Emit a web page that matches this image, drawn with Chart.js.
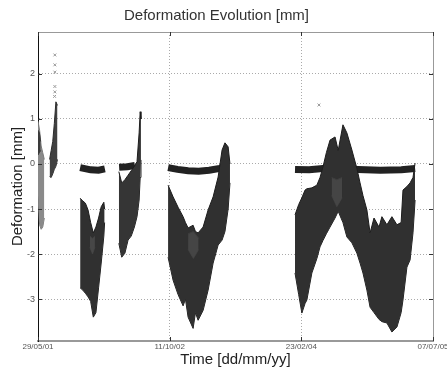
<!DOCTYPE html>
<html>
<head>
<meta charset="utf-8">
<script src="https://cdn.jsdelivr.net/npm/chart.js@4.4.0/dist/chart.umd.min.js"></script>
<style>
  html, body { margin: 0; padding: 0; background: #fff; }
</style>
</head>
<body>
<canvas id="chart" width="447" height="375"></canvas>
<script>
// time is counted in days from 29/05/01
var tickDays = [0, 500, 1000, 1500];
var tickDates = ['29/05/01', '11/10/02', '23/02/04', '07/07/05'];
var yTicks = [-3, -2, -1, 0, 1, 2];

// reference point that stays near zero (null = no campaign)
var refDays = [160, 200, 230, 254, 255, 308, 340, 368, 369, 494, 530, 570, 610, 650, 690, 703, 704, 976, 1030, 1082, 1150, 1215, 1300, 1380, 1432];
var refVals = [-0.08, -0.13, -0.14, -0.11, null, -0.07, -0.06, -0.03, null, -0.08, -0.12, -0.15, -0.16, -0.14, -0.1, -0.06, null, -0.12, -0.13, -0.1, -0.1, -0.12, -0.14, -0.13, -0.1];

// each campaign: upper and lower edge of the point cloud
var aDays = [0, 6, 12, 18, 24];
var aHigh = [0.95, 0.75, 0.4, 0.25, 0.1];
var aLow = [-0.7, -1.35, -1.45, -1.4, -1.2];

var aDarkDays = [0, 5, 10];
var aDarkHigh = [0.75, 0.7, 0.5];
var aDarkLow = [0.2, 0.25, 0.3];

var bDays = [44, 50, 56, 62, 68, 74];
var bHigh = [0.1, 0.3, 0.5, 0.9, 1.38, 1.3];
var bLow = [-0.28, -0.3, -0.22, -0.12, -0.05, 0.1];

var dDays = [160, 170, 180, 190, 200, 210, 220, 230, 240, 250, 253];
var dHigh = [-0.76, -0.82, -0.87, -1.02, -1.3, -1.53, -1.4, -1.2, -0.95, -0.85, -1.0];
var dLow = [-2.75, -2.8, -2.87, -2.95, -3.05, -3.4, -3.3, -2.75, -2.2, -1.6, -1.3];

var eDays = [307, 318, 330, 342, 354, 366, 376, 384, 388, 391];
var eHigh = [-0.17, -0.42, -0.35, -0.25, -0.15, -0.05, 0.05, 0.69, 1.16, 1.0];
var eLow = [-1.76, -2.07, -1.98, -1.69, -1.6, -1.4, -1.17, -0.8, -0.3, 0.09];

var fDays = [494, 513, 532, 551, 560, 570, 589, 598, 608, 627, 646, 665, 684, 699, 710, 722, 729];
var fHigh = [-0.47, -0.73, -0.96, -1.17, -1.3, -1.42, -1.36, -1.5, -1.53, -1.4, -1.02, -0.73, -0.29, 0.31, 0.47, 0.38, 0.0];
var fLow = [-2.07, -2.58, -2.9, -3.15, -3.0, -3.4, -3.65, -3.3, -3.47, -3.25, -2.8, -2.2, -1.8, -1.69, -1.5, -1.0, -0.42];

var gDays = [976, 990, 1002, 1014, 1021, 1040, 1059, 1071, 1082, 1095, 1109, 1128, 1140, 1158, 1173, 1192, 1211, 1223, 1234, 1249, 1261, 1276, 1295, 1306, 1325, 1344, 1363, 1379, 1386, 1401, 1413, 1424, 1432];
var gHigh = [-1.13, -0.9, -0.75, -0.58, -0.55, -0.53, -0.47, -0.3, -0.07, 0.25, 0.53, 0.6, 0.3, 0.87, 0.69, 0.31, -0.1, -0.42, -0.7, -1.02, -1.53, -1.2, -1.4, -1.17, -1.35, -1.17, -1.35, -1.3, -0.58, -0.5, -0.42, -0.3, 0.02];
var gLow = [-2.42, -2.9, -3.31, -3.1, -3.02, -2.42, -2.1, -1.84, -1.7, -1.55, -1.4, -1.2, -1.05, -1.3, -1.62, -1.75, -1.98, -2.2, -2.42, -2.8, -3.18, -3.3, -3.45, -3.5, -3.53, -3.73, -3.62, -3.3, -3.02, -2.29, -2.13, -1.53, -0.8];

// slightly lighter patches inside the clouds
var dLightDays = [197, 207, 216];
var dLightHigh = [-1.6, -1.65, -1.6];
var dLightLow = [-1.85, -2.0, -1.85];

var fLightDays = [570, 590, 610];
var fLightHigh = [-1.55, -1.5, -1.65];
var fLightLow = [-1.9, -2.1, -1.9];

var gLightDays = [1115, 1135, 1155];
var gLightHigh = [-0.3, -0.35, -0.3];
var gLightLow = [-0.7, -0.95, -0.75];

// isolated readings
var outDays = [64, 64, 64, 64, 64, 63, 1067];
var outVals = [2.42, 2.2, 2.04, 1.72, 1.6, 1.5, 1.31];

var font = "'Liberation Sans', Arial, sans-serif";

function pts(days, vals) {
  return days.map(function (d, i) { return { x: d, y: vals[i] }; });
}

function band(days, high, low, fill, edge) {
  return [{
    data: pts(days, high),
    borderColor: edge,
    backgroundColor: fill,
    borderWidth: 1,
    pointRadius: 0,
    fill: '+1'
  }, {
    data: pts(days, low),
    borderColor: edge,
    backgroundColor: fill,
    borderWidth: 1,
    pointRadius: 0,
    fill: false
  }];
}

// first datasets are painted last, so the patches go first
var datasets = [].concat(
  band(dLightDays, dLightHigh, dLightLow, '#474747', '#404040'),
  band(fLightDays, fLightHigh, fLightLow, '#454545', '#3e3e3e'),
  band(gLightDays, gLightHigh, gLightLow, '#454545', '#3e3e3e'),
  band(aDarkDays, aDarkHigh, aDarkLow, '#3a3a3a', '#3a3a3a'),
  band(aDays, aHigh, aLow, '#8a8a8a', '#7a7a7a'),
  band(bDays, bHigh, bLow, '#404040', '#2a2a2a'),
  band(dDays, dHigh, dLow, '#303030', '#1c1c1c'),
  band(eDays, eHigh, eLow, '#353535', '#1c1c1c'),
  band(fDays, fHigh, fLow, '#303030', '#1c1c1c'),
  band(gDays, gHigh, gLow, '#303030', '#1c1c1c')
);

datasets.push({
  data: pts(refDays, refVals),
  borderColor: '#222',
  borderWidth: 7,
  pointRadius: 0,
  spanGaps: false,
  fill: false
});

datasets.push({
  data: pts(outDays, outVals),
  showLine: false,
  pointStyle: 'crossRot',
  pointRadius: 2,
  borderColor: '#999',
  borderWidth: 1,
  fill: false
});

var frame = {
  id: 'frame',
  afterDraw: function (chart) {
    var ctx = chart.ctx, a = chart.chartArea;
    var sx = chart.scales.x, sy = chart.scales.y;
    ctx.save();
    ctx.strokeStyle = '#999';
    ctx.lineWidth = 1;
    ctx.beginPath();
    ctx.moveTo(a.left, a.top + 0.5);
    ctx.lineTo(a.right + 0.5, a.top + 0.5);
    ctx.lineTo(a.right + 0.5, a.bottom);
    ctx.stroke();
    ctx.strokeStyle = '#333';
    ctx.beginPath();
    yTicks.forEach(function (v) {
      var y = Math.round(sy.getPixelForValue(v)) + 0.5;
      ctx.moveTo(a.left, y); ctx.lineTo(a.left + 4, y);
      ctx.moveTo(a.right - 4, y); ctx.lineTo(a.right, y);
    });
    tickDays.forEach(function (d) {
      var x = Math.round(sx.getPixelForValue(d)) + 0.5;
      ctx.moveTo(x, a.top); ctx.lineTo(x, a.top + 4);
      ctx.moveTo(x, a.bottom); ctx.lineTo(x, a.bottom - 4);
    });
    ctx.stroke();
    ctx.restore();
  }
};

new Chart(document.getElementById('chart'), {
  type: 'line',
  data: { datasets: datasets },
  plugins: [frame],
  options: {
    responsive: false,
    animation: false,
    devicePixelRatio: 1,
    layout: { padding: { left: 0, right: 14, top: 0, bottom: 0 } },
    plugins: {
      legend: { display: false },
      tooltip: { enabled: false },
      title: {
        display: true,
        text: 'Deformation Evolution [mm]',
        color: '#333',
        font: { family: font, size: 15, weight: 'normal' },
        padding: { top: 7, bottom: 7 }
      }
    },
    elements: { line: { tension: 0 } },
    scales: {
      x: {
        type: 'linear',
        min: 0,
        max: 1500,
        afterBuildTicks: function (s) {
          s.ticks = tickDays.map(function (d) { return { value: d }; });
        },
        afterFit: function (s) {
          s.height = 34;
          s.paddingLeft = 0;
          s.paddingRight = 0;
        },
        ticks: {
          autoSkip: false,
          maxRotation: 0,
          padding: 1,
          color: '#555',
          font: { family: font, size: 8 },
          callback: function (v) {
            var i = tickDays.indexOf(v);
            return i >= 0 ? tickDates[i] : '';
          }
        },
        grid: {
          drawTicks: false,
          color: function (c) {
            return (c.tick && (c.tick.value === 0 || c.tick.value === 1500)) ? 'rgba(0,0,0,0)' : '#aaa';
          }
        },
        border: { display: true, color: '#999', width: 2, dash: [1, 2] },
        title: {
          display: true,
          text: 'Time [dd/mm/yy]',
          color: '#222',
          font: { family: font, size: 15 },
          padding: { top: 0, bottom: 6 }
        }
      },
      y: {
        min: -3.93,
        max: 2.93,
        afterBuildTicks: function (s) {
          s.ticks = yTicks.map(function (v) { return { value: v }; });
        },
        afterFit: function (s) {
          s.width = 38;
          s.paddingTop = 0;
          s.paddingBottom = 0;
        },
        ticks: {
          padding: 3,
          color: '#555',
          font: { family: font, size: 9 }
        },
        grid: { drawTicks: false, color: '#aaa' },
        border: { display: true, color: '#111', width: 1, dash: [1, 2] },
        title: {
          display: true,
          text: 'Deformation [mm]',
          color: '#222',
          font: { family: font, size: 15 },
          padding: { top: 9, bottom: 0 }
        }
      }
    }
  }
});
</script>
</body>
</html>
